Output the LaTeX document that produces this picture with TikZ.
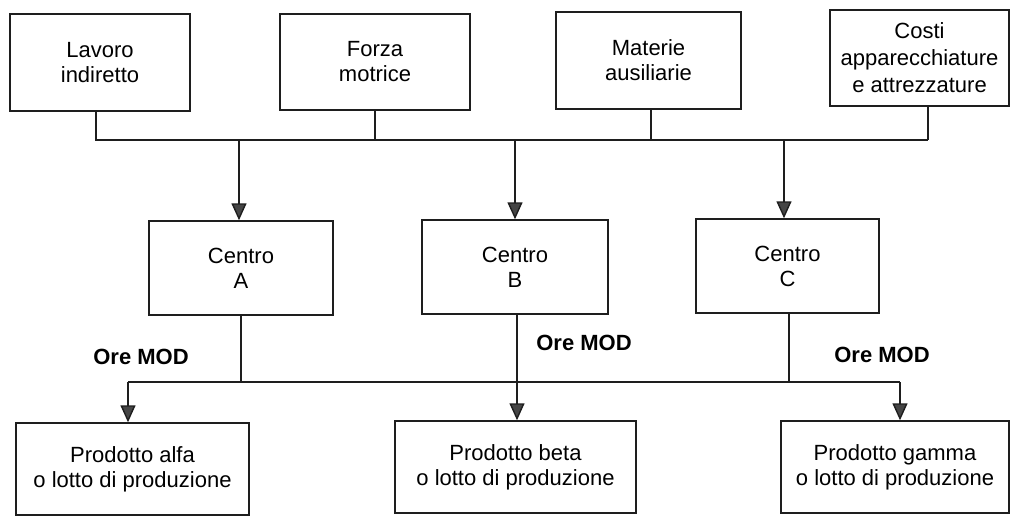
\documentclass[tikz,border=0pt]{standalone}
\usepackage{fontspec}
\setmainfont{Liberation Sans}
\usetikzlibrary{arrows.meta}
\definecolor{ink}{HTML}{1E1E1E}
\definecolor{tipgray}{HTML}{454545}
\begin{document}
\begin{tikzpicture}[x=1pt,y=-1pt,
  box/.style={draw=ink, line width=1.4pt, rectangle, inner sep=0pt, align=center,
              font=\fontsize{22}{25}\selectfont},
  link/.style={draw=ink, line width=1.4pt},
  flow/.style={link, -{Triangle[length=17pt,width=15pt,fill=tipgray]}},
  lbl/.style={inner sep=0pt, font=\fontsize{22}{25}\selectfont\bfseries}]
\useasboundingbox (0,0) rectangle (1011,516);

% cost items
\node[box, minimum width=180pt, minimum height=97pt] (lav)   at (100,62.5)  {Lavoro\\indiretto};
\node[box, minimum width=190pt, minimum height=96pt] (forza) at (375,62)    {Forza\\motrice};
\node[box, minimum width=185pt, minimum height=97pt] (mat)   at (648.5,60.5){Materie\\ausiliarie};
\node[box, minimum width=179pt, minimum height=96pt, font=\fontsize{22}{27}\selectfont] (costi) at (919.5,58) {Costi\\apparecchiature\\e attrezzature};

% cost centres
\node[box, minimum width=184pt, minimum height=94pt] (A) at (241,268)   {Centro\\A};
\node[box, minimum width=186pt, minimum height=94pt] (B) at (515,267)   {Centro\\B};
\node[box, minimum width=183pt, minimum height=94pt] (C) at (787.5,266) {Centro\\C};

% products
\node[box, minimum width=233pt, minimum height=92pt] (alfa)  at (132.5,469) {Prodotto alfa\\o lotto di produzione};
\node[box, minimum width=241pt, minimum height=92pt] (beta)  at (515.5,467) {Prodotto beta\\o lotto di produzione};
\node[box, minimum width=228pt, minimum height=92pt] (gamma) at (895,467)   {Prodotto gamma\\o lotto di produzione};

% bus lines
\coordinate (busR) at (928,140);
\coordinate (lowL) at (128,382);
\coordinate (lowR) at (900,382);

% upper collector
\draw[link] ([xshift=-4pt]lav.south) |- (busR);
\draw[link] (forza.south) -- (forza.south |- busR);
\draw[link] ([xshift=2.5pt]mat.south) -- ([xshift=2.5pt]mat.south |- busR);
\draw[link] ([xshift=8.5pt]costi.south) -- (busR);

\draw[flow] ([xshift=-2pt]A.north |- busR) -- ([xshift=-2pt]A.north);
\draw[flow] (B.north |- busR) -- (B.north);
\draw[flow] ([xshift=-3.5pt]C.north |- busR) -- ([xshift=-3.5pt]C.north);

% lower distribution
\draw[link] (lowL) -- (lowR);
\draw[link] (A.south) -- (A.south |- lowL);
\draw[link] ([xshift=1.5pt]C.south) -- ([xshift=1.5pt]C.south |- lowR);
\draw[flow] (lowL) -- (lowL |- alfa.north);
\draw[flow] ([xshift=2pt]B.south) -- ([xshift=2pt]B.south |- beta.north);
\draw[flow] (lowR) -- (lowR |- gamma.north);

% allocation basis
\node[lbl] (oreA) at (141,357) {Ore MOD};
\node[lbl] (oreB) at (584,343) {Ore MOD};
\node[lbl] (oreC) at (882,355) {Ore MOD};
\end{tikzpicture}
\end{document}
